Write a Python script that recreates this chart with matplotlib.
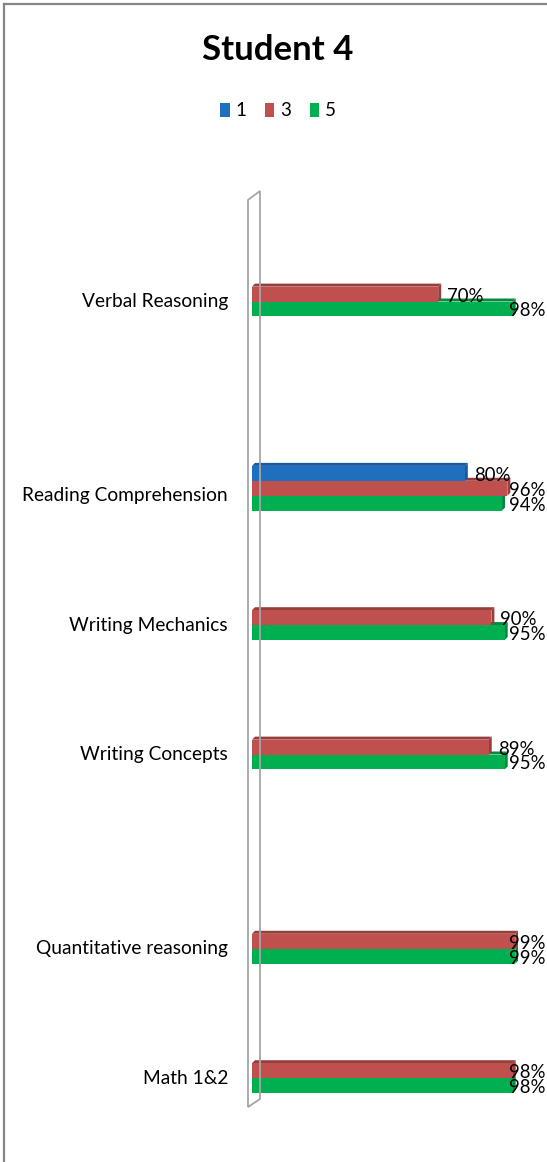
import matplotlib
matplotlib.use("Agg")
import matplotlib.pyplot as plt
from matplotlib.patches import Polygon, Rectangle
from matplotlib.lines import Line2D
import numpy as np

plt.rcParams['font.family'] = ['Lato', 'DejaVu Sans']

categories = ["Verbal Reasoning", "Reading Comprehension", "Writing Mechanics",
              "Writing Concepts", "Quantitative reasoning", "Math 1&2"]
series_names = ["1", "3", "5"]
s1 = [None, 0.80, None, None, None, None]
s3 = [0.70, 0.96, 0.90, 0.89, 0.99, 0.98]
s5 = [0.98, 0.94, 0.95, 0.95, 0.99, 0.98]

colors = ["#1F6FBF", "#C0504D", "#00B050"]
tops = ["#185A9C", "#963E3C", "#008A3E"]

# slot positions (the chart leaves empty slots between groups)
pos = [0, 3, 5, 7, 10, 12]

W, H = 547, 1162
fig = plt.figure(figsize=(W / 100, H / 100), dpi=100)

# outer chart frame (top and left edges show)
fig.add_artist(Line2D([4 / W, 4 / W], [0, 1 - 4 / H], color="#868686", lw=1.6))
fig.add_artist(Line2D([4 / W, 1], [1 - 4 / H, 1 - 4 / H], color="#868686", lw=1.6))

x0, x1 = 252, 518
ytop, ybot = 197, 1103
ax = fig.add_axes([x0 / W, 1 - ybot / H, (x1 - x0) / W, (ybot - ytop) / H])
ax.set_xlim(0, 1)
ax.set_ylim(12.5, -1.5)
ax.set_axis_off()

# side wall
wall = Polygon([(248 / W, 1 - 200 / H), (260 / W, 1 - 191 / H),
                (260 / W, 1 - 1099 / H), (248 / W, 1 - 1107 / H)],
               closed=True, transform=fig.transFigure, fill=False,
               edgecolor="#A6A6A6", lw=1.3)
fig.add_artist(wall)

bh = 0.23
dx = 3 / (x1 - x0)
dy = 3 / ((ybot - ytop) / 14)

for k, vals in enumerate([s1, s3, s5]):
    z = 10 - 2 * k
    for i, v in enumerate(vals):
        if v is None:
            continue
        yc = pos[i] + (k - 1) * bh
        yt = yc - bh / 2
        yb = yc + bh / 2
        ax.add_patch(Rectangle((0, yt), v, bh, facecolor=colors[k], edgecolor="none", zorder=z))
        # top face and end face for the 3d look
        ax.add_patch(Polygon([(0, yt), (v, yt), (v + dx, yt - dy), (dx, yt - dy)],
                             closed=True, facecolor=tops[k], edgecolor="none", zorder=z - 1))
        ax.add_patch(Polygon([(v, yt), (v + dx, yt - dy), (v + dx, yb - dy), (v, yb)],
                             closed=True, facecolor=tops[k], edgecolor="none", zorder=z - 1))
        tx = min(v + 0.034, 0.966)
        ax.text(tx, yc + 0.03, f"{round(v * 100)}%", fontsize=13.4, va="center", ha="left",
                color="black", zorder=20, clip_on=False)

for i, c in enumerate(categories):
    ax.text(-0.09, pos[i] + 0.12, c, ha="right", va="center", fontsize=13.8, clip_on=False)

fig.text(278 / W, 1 - 50 / H, "Student 4", ha="center", va="center", fontsize=25, fontweight="bold")

handles = [Rectangle((0, 0), 1, 1, facecolor=c) for c in colors]
fig.legend(handles, series_names, loc="center", bbox_to_anchor=(278 / W, 1 - 111 / H),
           ncol=3, frameon=False, fontsize=13.5, handlelength=0.5, handleheight=0.8,
           handletextpad=0.3, columnspacing=1.0)

fig.savefig("out.png", dpi=100)
